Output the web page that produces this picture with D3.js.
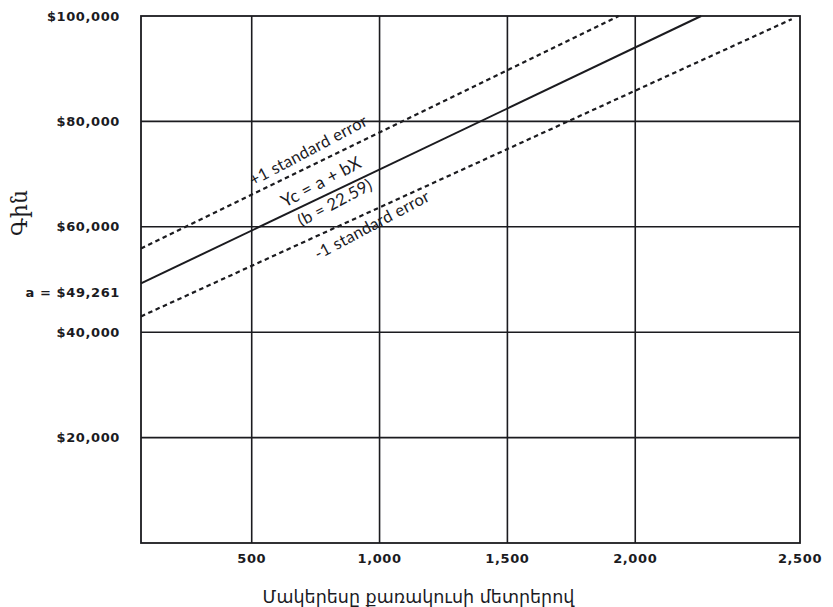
<!DOCTYPE html>
<html>
<head>
<meta charset="utf-8">
<script src="https://cdn.jsdelivr.net/npm/d3@7"></script>
<style>
  body { margin: 0; background: #fff; }
  svg { display: block; }
</style>
</head>
<body>
<div id="chart"></div>
<script>
// values
const xBreaks = [0, 500, 2000, 2500];
const xTicks = [500, 1000, 1500, 2000, 2500];
const xTickLabels = ['500', '1,000', '1,500', '2,000', '2,500'];
const yTicks = [20000, 40000, 60000, 80000, 100000];
const yTickLabels = ['$20,000', '$40,000', '$60,000', '$80,000', '$100,000'];
const intercept = 49261;
const slopeLabel = 22.59;
const regressionX = [0, 2200];
const regressionY = [intercept, 100000];
const upperX = [0, 1935];
const upperY = [55900, 100000];
const lowerX = [0, 2475];
const lowerY = [43000, 99400];

const W = 833, H = 607;
const plotL = 141, plotR = 800, plotT = 16, plotB = 543;
const pw = plotR - plotL;
const ink = '#1b1b1f';

const svg = d3.select('#chart').append('svg').attr('width', W).attr('height', H);

// the printed grid is uneven: first column narrower, last wider
const x = d3.scaleLinear().domain(xBreaks)
  .range([plotL, plotL + pw * 0.168, plotL + pw * 0.75, plotR]);
const y = d3.scaleLinear().domain([0, 100000]).range([plotB, plotT]);

const grid = svg.append('g').attr('stroke', ink).attr('stroke-width', 1.6);
grid.selectAll('line.v').data(xTicks.slice(0, -1)).join('line')
  .attr('class', 'v')
  .attr('x1', d => x(d)).attr('x2', d => x(d))
  .attr('y1', plotT).attr('y2', plotB);
grid.selectAll('line.h').data(yTicks.slice(0, -1)).join('line')
  .attr('class', 'h')
  .attr('x1', plotL).attr('x2', plotR)
  .attr('y1', d => y(d)).attr('y2', d => y(d));
svg.append('rect')
  .attr('x', plotL).attr('y', plotT).attr('width', pw).attr('height', plotB - plotT)
  .attr('fill', 'none').attr('stroke', ink).attr('stroke-width', 1.8);

const line = d3.line().x(d => x(d[0])).y(d => y(d[1]));
const series = [
  { xs: regressionX, ys: regressionY, dash: null, w: 2 },
  { xs: upperX, ys: upperY, dash: '4.5,3.5', w: 2.2 },
  { xs: lowerX, ys: lowerY, dash: '4.5,3.5', w: 2.2 },
];
svg.selectAll('path.series').data(series).join('path')
  .attr('class', 'series')
  .attr('d', s => line(s.xs.map((v, i) => [v, s.ys[i]])))
  .attr('fill', 'none').attr('stroke', ink)
  .attr('stroke-width', s => s.w)
  .attr('stroke-dasharray', s => s.dash);

// tick labels
const tickFont = "'DejaVu Sans', sans-serif";
const tickStyle = sel => sel
  .style('font-family', tickFont).style('font-size', '13px').style('font-weight', 'bold')
  .style('letter-spacing', '0.6px')
  .attr('fill', ink);

svg.append('g').selectAll('text').data(yTicks).join('text')
  .attr('x', plotL - 21).attr('y', d => y(d)).attr('dy', '0.35em')
  .attr('text-anchor', 'end')
  .call(tickStyle)
  .text((d, i) => yTickLabels[i]);

svg.append('text')
  .attr('x', plotL - 21).attr('y', y(intercept) + 9).attr('dy', '0.35em')
  .attr('text-anchor', 'end')
  .call(tickStyle)
  .text('a = $' + d3.format(',')(intercept));

svg.append('g').selectAll('text').data(xTicks).join('text')
  .attr('x', d => x(d)).attr('y', plotB + 20)
  .attr('text-anchor', 'middle')
  .call(tickStyle)
  .text((d, i) => xTickLabels[i]);

// axis titles
svg.append('text')
  .attr('x', (plotL + plotR) / 2 - 52).attr('y', 603)
  .attr('text-anchor', 'middle')
  .style('font-family', "'DejaVu Sans', sans-serif").style('font-size', '17.5px')
  .attr('fill', ink)
  .text('Մակերեսը քառակուսի մետրերով');

svg.append('text')
  .attr('transform', 'translate(27,213) rotate(-90)')
  .attr('text-anchor', 'middle')
  .style('font-family', "'DejaVu Serif', serif").style('font-size', '22px')
  .attr('fill', ink)
  .text('Գին');

// notes along the lines
const notes = [
  { text: '+1 standard error', at: [505, 67700], size: 16.5 },
  { text: 'Yc = a + bX', at: [630, 63600], size: 17.5 },
  { text: '(b = ' + slopeLabel + ')', at: [695, 60000], size: 16.5 },
  { text: '-1 standard error', at: [760, 53700], size: 16.5 },
];
svg.append('g').selectAll('text').data(notes).join('text')
  .attr('transform', d => `translate(${x(d.at[0])},${y(d.at[1])}) rotate(-28)`)
  .style('font-family', "Lato, 'Open Sans', sans-serif").style('font-size', d => d.size + 'px')
  .style('letter-spacing', '0.3px')
  .attr('fill', ink)
  .text(d => d.text);
</script>
</body>
</html>
